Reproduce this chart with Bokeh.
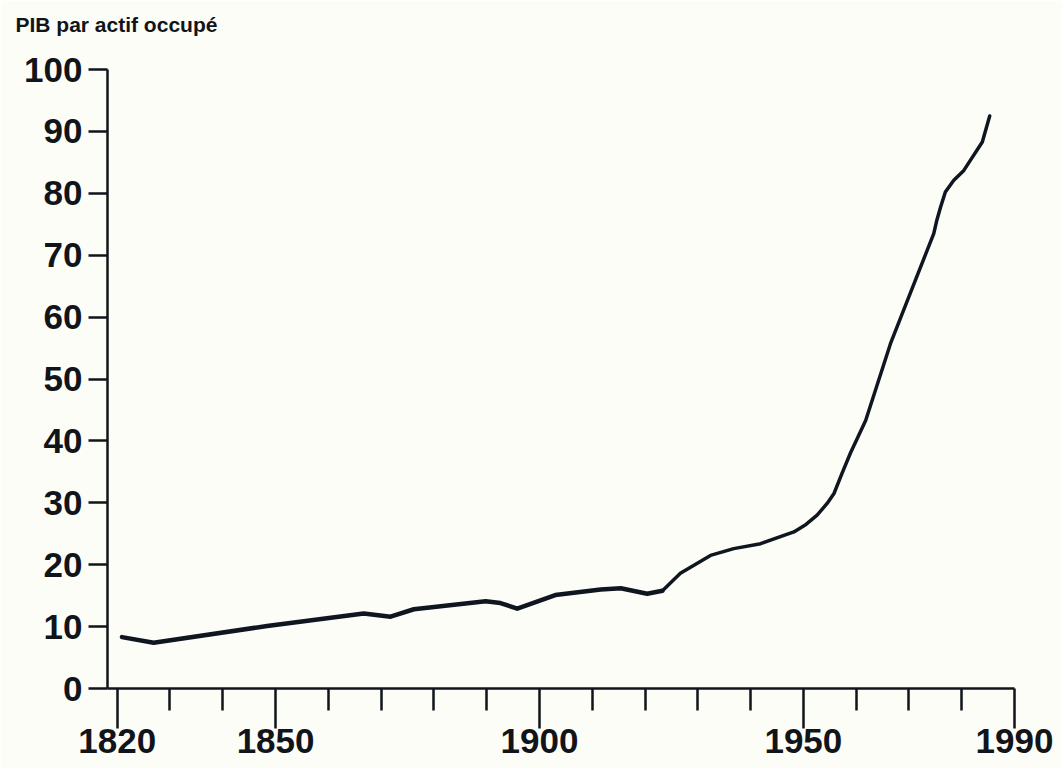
from bokeh.plotting import figure
from bokeh.models import FixedTicker, Range1d, Title
from bokeh.embed import file_html
from bokeh.resources import INLINE

# --- data ---
years = [1820.9, 1826.9, 1848.4, 1866.7, 1871.8, 1876.2, 1889.8, 1892.6, 1895.8,
         1903.0, 1911.6, 1915.4, 1920.4, 1923.3, 1926.7, 1932.4, 1936.8, 1941.9,
         1948.2, 1950.5, 1952.6, 1954.5, 1955.8, 1957.3, 1958.9, 1961.8, 1966.5,
         1974.7, 1975.3, 1976.0, 1976.9, 1978.5, 1980.4, 1983.9, 1985.3]
pib = [8.3, 7.4, 10.1, 12.1, 11.6, 12.8, 14.1, 13.8, 12.9,
       15.1, 16.0, 16.2, 15.3, 15.8, 18.6, 21.5, 22.6, 23.4,
       25.3, 26.5, 28.0, 29.9, 31.5, 34.7, 38.0, 43.3, 55.7,
       73.5, 75.7, 77.8, 80.2, 82.1, 83.7, 88.3, 92.5]

x_major = [1820, 1850, 1900, 1950, 1990]
x_minor = [1830, 1840, 1860, 1870, 1880, 1890, 1910, 1920, 1930, 1940,
           1960, 1970, 1980]
y_ticks = [0, 10, 20, 30, 40, 50, 60, 70, 80, 90, 100]
title_text = "PIB par actif occupé"

INK = "#111418"
BG = "#fdfdf8"
FONT = "'Liberation Sans', Arial, sans-serif"

p = figure(width=1062, height=768, output_backend="svg", toolbar_location=None,
           x_range=Range1d(1818.16, 1990), y_range=Range1d(0, 100),
           min_border_left=107, min_border_right=48, min_border_top=69,
           min_border_bottom=80)
p.grid.visible = False
p.outline_line_color = None
p.background_fill_color = BG
p.border_fill_color = BG

# spacer (closest to the frame) then the real title above it
p.add_layout(Title(text=" ", text_font=FONT, text_font_size="15px"), "above")
p.add_layout(Title(text=title_text, align="left", offset=-92, text_font=FONT,
                   text_font_style="bold", text_font_size="21px",
                   text_color=INK), "above")

xa = p.xaxis[0]
ya = p.yaxis[0]
xa.ticker = FixedTicker(ticks=x_major, minor_ticks=x_minor)
xa.major_tick_out = 40
xa.major_tick_in = 0
xa.minor_tick_out = 22
xa.minor_tick_in = 0
xa.major_label_standoff = 0
for a in (xa, ya):
    a.axis_line_width = 2.5
    a.axis_line_color = INK
    a.major_tick_line_width = 2.5
    a.major_tick_line_color = INK
    a.minor_tick_line_width = 2.5
    a.minor_tick_line_color = INK
    a.major_label_text_font = FONT
    a.major_label_text_font_style = "bold"
    a.major_label_text_font_size = "35px"
    a.major_label_text_color = INK

ya.ticker = FixedTicker(ticks=y_ticks, minor_ticks=[])
ya.major_tick_out = 19
ya.major_tick_in = 0
ya.minor_tick_out = 0
ya.major_label_standoff = 6

# thicker stroke on the early, flat part as in the reference drawing
p.line(years[:14], pib[:14], line_width=4.5, line_color="#0f1620",
       line_join="round", line_cap="round")
p.line(years[13:], pib[13:], line_width=3.5, line_color="#0f1620",
       line_join="round", line_cap="round")

open("out.html", "w").write(file_html(p, INLINE))
